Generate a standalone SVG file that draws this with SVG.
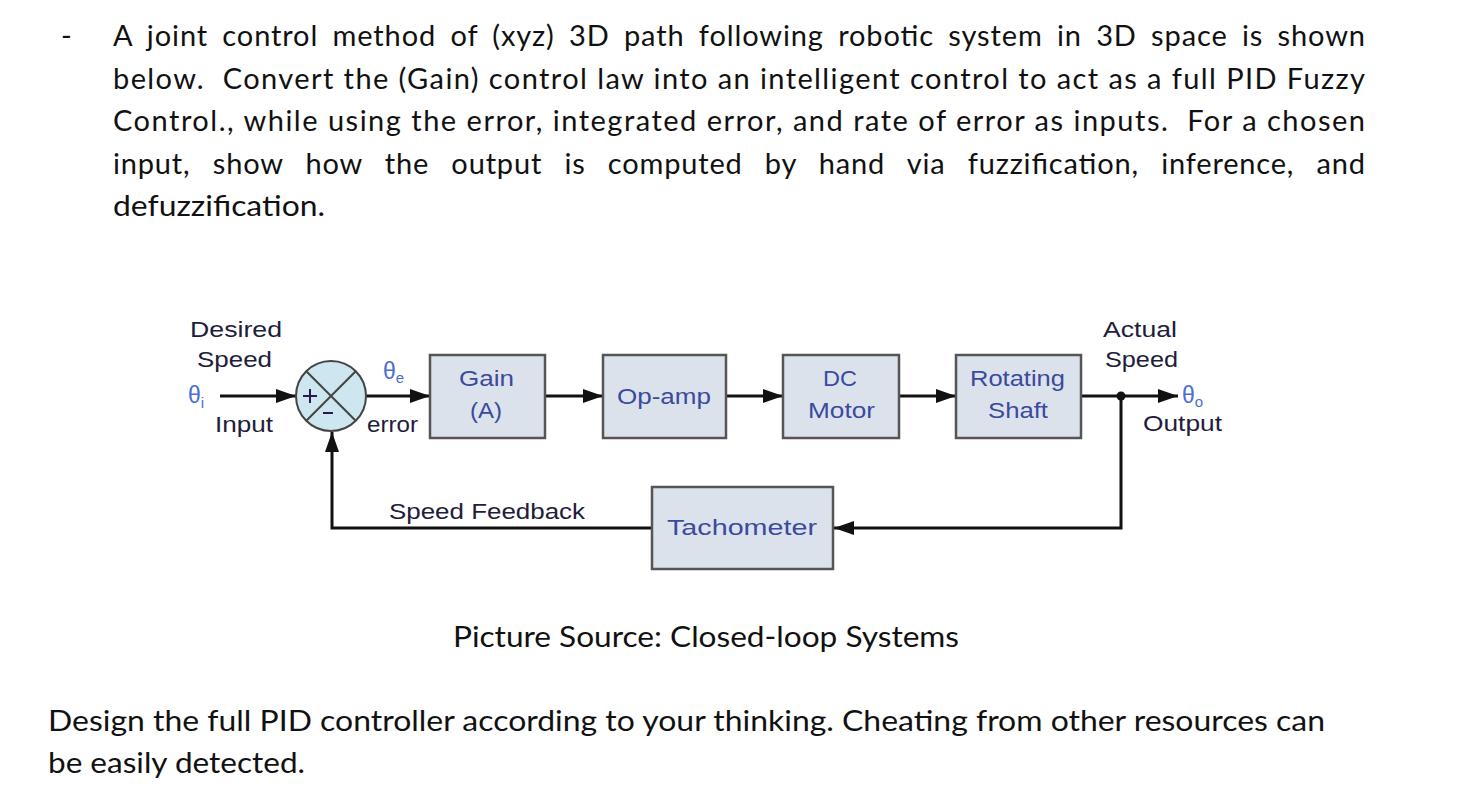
<svg xmlns="http://www.w3.org/2000/svg" width="1472" height="812" viewBox="0 0 1472 812">
  <style>
    .para { font-family: Lato, "Open Sans", "Liberation Sans", sans-serif; font-size: 29px; fill: #111; }
    .lbl { font-family: "Liberation Sans", Arial, sans-serif; font-size: 22px; fill: #221c3c; }
    .blbl { font-family: "Liberation Sans", Arial, sans-serif; font-size: 22px; fill: #3b4a9c; text-anchor: start; }
    .theta { font-family: "Liberation Sans", "DejaVu Sans", sans-serif; font-size: 23px; fill: #4a6fd0; }
    .sub { font-size: 15px; }
    .box { fill: #dbe2ec; stroke: #555; stroke-width: 2.5; }
    .sum { fill: #cde6ef; stroke: #444; stroke-width: 2; }
    .wire { fill: none; stroke: #111; stroke-width: 3; }
  </style>
  <defs>
    <marker id="arr" markerUnits="userSpaceOnUse" markerWidth="20" markerHeight="14" refX="20" refY="7" orient="auto">
      <path d="M0,0 L20,7 L0,14 z" fill="#111"/>
    </marker>
  </defs>
  <rect width="1472" height="812" fill="#fff"/>

  <g id="question-text">
    <text class="para" x="61" y="46">-</text>
    <text class="para" x="113" y="46" textLength="1252" lengthAdjust="spacing" style="word-spacing:6px">A joint control method of (xyz) 3D path following robotic system in 3D space is shown</text>
    <text class="para" x="113" y="88.5" textLength="1252" lengthAdjust="spacing" xml:space="preserve">below.  Convert the (Gain) control law into an intelligent control to act as a full PID Fuzzy</text>
    <text class="para" x="113" y="131" textLength="1252" lengthAdjust="spacing" xml:space="preserve">Control., while using the error, integrated error, and rate of error as inputs.  For a chosen</text>
    <text class="para" x="113" y="173.5" textLength="1252" lengthAdjust="spacing" style="word-spacing:14px">input, show how the output is computed by hand via fuzzification, inference, and</text>
    <text class="para" x="113" y="216" textLength="212" lengthAdjust="spacingAndGlyphs">defuzzification.</text>
    <text class="para" x="453" y="647" textLength="506" lengthAdjust="spacingAndGlyphs">Picture Source: Closed-loop Systems</text>
    <text class="para" x="48" y="731" textLength="1277" lengthAdjust="spacingAndGlyphs">Design the full PID controller according to your thinking. Cheating from other resources can</text>
    <text class="para" x="48" y="773" textLength="257" lengthAdjust="spacingAndGlyphs">be easily detected.</text>
  </g>

  <g id="connectors">
    <line class="wire" x1="220" y1="396" x2="296" y2="396" marker-end="url(#arr)"/>
    <line class="wire" x1="366" y1="396" x2="430" y2="396" marker-end="url(#arr)"/>
    <line class="wire" x1="545" y1="396" x2="603" y2="396" marker-end="url(#arr)"/>
    <line class="wire" x1="726" y1="396" x2="783" y2="396" marker-end="url(#arr)"/>
    <line class="wire" x1="899" y1="396" x2="956" y2="396" marker-end="url(#arr)"/>
    <line class="wire" x1="1081" y1="396" x2="1178" y2="396" marker-end="url(#arr)"/>
    <circle cx="1121" cy="396" r="4.5" fill="#111"/>
    <polyline class="wire" points="1121,396 1121,528 834,528" marker-end="url(#arr)"/>
    <polyline class="wire" points="652,528 332,528 332,432" marker-end="url(#arr)"/>
  </g>

  <g id="input-labels">
    <text class="lbl" x="190" y="337" textLength="92" lengthAdjust="spacingAndGlyphs">Desired</text>
    <text class="lbl" x="197" y="367" textLength="75" lengthAdjust="spacingAndGlyphs">Speed</text>
    <text class="theta" x="188" y="403">θ<tspan class="sub" dy="5">i</tspan></text>
    <text class="lbl" x="215" y="432" textLength="58" lengthAdjust="spacingAndGlyphs">Input</text>
  </g>

  <g id="summing-junction">
    <circle class="sum" cx="331" cy="396" r="35"/>
    <line x1="306.3" y1="371.3" x2="355.7" y2="420.7" stroke="#444" stroke-width="2"/>
    <line x1="355.7" y1="371.3" x2="306.3" y2="420.7" stroke="#444" stroke-width="2"/>
    <path d="M303,396 H317 M310,389 V403" stroke="#2a1a4a" stroke-width="2"/>
    <path d="M323,413 H333" stroke="#2a1a4a" stroke-width="2"/>
  </g>

  <g id="error-labels">
    <text class="theta" x="383" y="379">θ<tspan class="sub" dy="4">e</tspan></text>
    <text class="lbl" x="367" y="432" textLength="51" lengthAdjust="spacingAndGlyphs">error</text>
  </g>

  <g id="gain">
    <rect class="box" x="430" y="355" width="115" height="83"/>
    <text class="blbl" x="459" y="386" textLength="55" lengthAdjust="spacingAndGlyphs">Gain</text>
    <text class="blbl" x="470" y="418" textLength="32" lengthAdjust="spacingAndGlyphs">(A)</text>
  </g>

  <g id="op-amp">
    <rect class="box" x="603" y="355" width="123" height="83"/>
    <text class="blbl" x="617" y="404" textLength="94" lengthAdjust="spacingAndGlyphs">Op-amp</text>
  </g>

  <g id="dc-motor">
    <rect class="box" x="783" y="355" width="116" height="83"/>
    <text class="blbl" x="823" y="386" textLength="34" lengthAdjust="spacingAndGlyphs">DC</text>
    <text class="blbl" x="808" y="418" textLength="67" lengthAdjust="spacingAndGlyphs">Motor</text>
  </g>

  <g id="rotating-shaft">
    <rect class="box" x="956" y="355" width="125" height="83"/>
    <text class="blbl" x="970" y="386" textLength="95" lengthAdjust="spacingAndGlyphs">Rotating</text>
    <text class="blbl" x="988" y="418" textLength="60" lengthAdjust="spacingAndGlyphs">Shaft</text>
  </g>

  <g id="output-labels">
    <text class="lbl" x="1103" y="337" textLength="74" lengthAdjust="spacingAndGlyphs">Actual</text>
    <text class="lbl" x="1105" y="367" textLength="73" lengthAdjust="spacingAndGlyphs">Speed</text>
    <text class="theta" x="1182" y="403">θ<tspan class="sub" dy="4">o</tspan></text>
    <text class="lbl" x="1143" y="431" textLength="79" lengthAdjust="spacingAndGlyphs">Output</text>
  </g>

  <g id="tachometer">
    <rect class="box" x="652" y="487" width="181" height="82"/>
    <text class="blbl" x="667" y="535" textLength="150" lengthAdjust="spacingAndGlyphs">Tachometer</text>
  </g>

  <g id="feedback-label">
    <text class="lbl" x="389" y="519" textLength="196" lengthAdjust="spacingAndGlyphs">Speed Feedback</text>
  </g>
</svg>
